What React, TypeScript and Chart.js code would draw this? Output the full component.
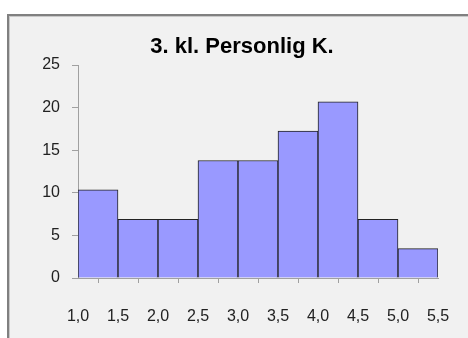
import React, { useEffect, useRef } from "react";
import { Chart, registerables } from "chart.js";

Chart.register(...registerables);

const title = "3. kl. Personlig K.";
const binCenters = [1.25, 1.75, 2.25, 2.75, 3.25, 3.75, 4.25, 4.75, 5.25];
const percentages = [10.34, 6.9, 6.9, 13.79, 13.79, 17.24, 20.69, 6.9, 3.45];
const xMin = 1.0;
const xMax = 5.5;
const xStep = 0.5;
const yMax = 25;
const yStep = 5;

const FONT = "'Liberation Sans', Arial, sans-serif";

const framePlugin = {
  id: "frame",
  beforeDraw(chart: any) {
    const ctx = chart.ctx;
    ctx.save();
    ctx.fillStyle = "#ffffff";
    ctx.fillRect(0, 0, chart.width, chart.height);
    ctx.fillStyle = "#f1f1f1";
    ctx.fillRect(8, 15, chart.width, chart.height);
    ctx.fillStyle = "#808080";
    ctx.fillRect(7, 14, 2, chart.height);
    ctx.fillRect(7, 14, chart.width, 2);
    ctx.fillStyle = "#c8c8c8";
    ctx.fillRect(9, 16, 1, chart.height);
    ctx.fillRect(9, 16, chart.width, 1);
    ctx.restore();
  },
  afterDraw(chart: any) {
    const ctx = chart.ctx;
    ctx.save();
    ctx.fillStyle = "#000000";
    ctx.font = "bold 22px " + FONT;
    ctx.textAlign = "center";
    ctx.textBaseline = "alphabetic";
    ctx.fillText(title, 242, 53);
    ctx.restore();
  },
};

export default function App() {
  const ref = useRef<HTMLCanvasElement | null>(null);
  useEffect(() => {
    if (!ref.current) return;
    const chart = new Chart(ref.current, {
      type: "bar",
      data: {
        datasets: [
          {
            data: binCenters.map((x, i) => ({ x, y: percentages[i] })),
            backgroundColor: "#9999ff",
            borderColor: "#222222",
            borderWidth: 1,
            barPercentage: 1,
            categoryPercentage: 1,
          },
        ],
      },
      options: {
        animation: false,
        responsive: false,
        devicePixelRatio: 1,
        layout: { padding: { left: 0, right: 30, top: 65, bottom: 0 } },
        plugins: {
          legend: { display: false },
          tooltip: { enabled: false },
          title: { display: false },
        },
        scales: {
          x: {
            type: "linear",
            min: xMin,
            max: xMax,
            offset: false,
            afterFit: (s: any) => {
              s.height = 60;
              s.paddingLeft = 0;
              s.paddingRight = 0;
            },
            ticks: {
              stepSize: xStep,
              color: "#222222",
              font: { family: FONT, size: 16 },
              padding: 24,
              maxRotation: 0,
              autoSkip: false,
              callback: (v: any) => Number(v).toFixed(1).replace(".", ","),
            },
            grid: {
              display: true,
              drawOnChartArea: false,
              drawTicks: true,
              tickLength: 5,
              color: "#a0a0a0",
            },
            border: { color: "#a0a0a0" },
          },
          y: {
            min: 0,
            max: yMax,
            afterFit: (s: any) => {
              s.width = 78;
              s.paddingTop = 0;
              s.paddingBottom = 0;
            },
            ticks: {
              stepSize: yStep,
              color: "#222222",
              font: { family: FONT, size: 16 },
              padding: 12,
            },
            grid: {
              display: true,
              drawOnChartArea: false,
              drawTicks: true,
              tickLength: 6,
              color: "#a0a0a0",
            },
            border: { color: "#a0a0a0" },
          },
        },
      },
      plugins: [framePlugin],
    });
    return () => chart.destroy();
  }, []);
  return (
    <div style={{ position: "absolute", left: 0, top: 0, width: 468, height: 338 }}>
      <canvas ref={ref} width={468} height={338} style={{ width: 468, height: 338, display: "block" }} />
    </div>
  );
}
